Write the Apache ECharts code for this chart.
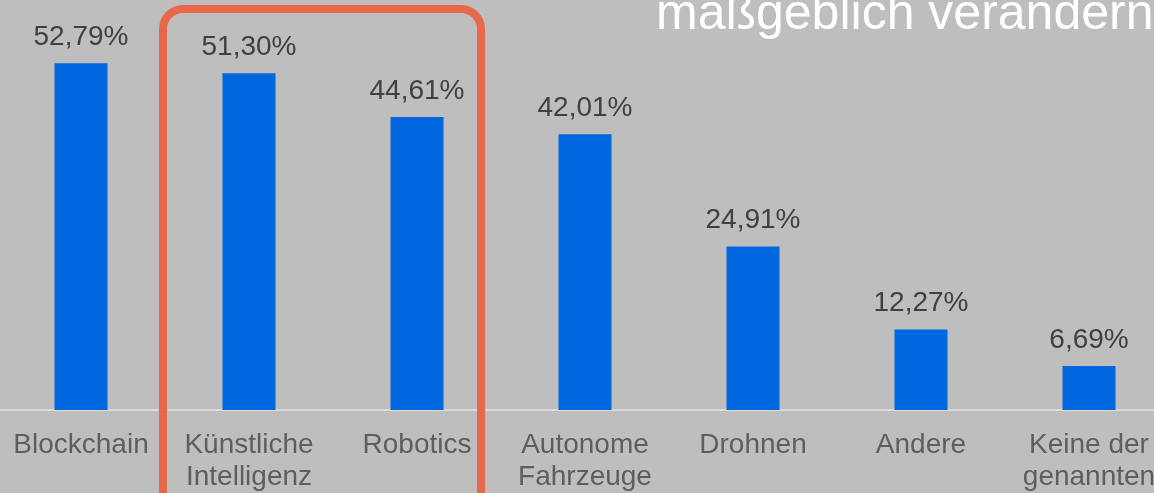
<!DOCTYPE html>
<html>
<head>
<meta charset="utf-8">
<style>
    html, body { margin: 0; padding: 0; background: #bebebf; }
    #chart { width: 1154px; height: 493px; }
</style>
<script src="https://cdn.jsdelivr.net/npm/echarts@6/dist/echarts.min.js"></script>
</head>
<body>
<div id="chart"></div>
<script>
    const categories = ['Blockchain', 'Künstliche\nIntelligenz', 'Robotics', 'Autonome\nFahrzeuge', 'Drohnen', 'Andere', 'Keine der\ngenannten'];
    const values = [52.79, 51.30, 44.61, 42.01, 24.91, 12.27, 6.69];
    const titleText = 'maßgeblich verändern';

    const chart = echarts.init(document.getElementById('chart'));
    chart.setOption({
        backgroundColor: '#bebebf',
        animation: false,
        grid: {
            left: -3,
            width: 1176,
            top: 16,
            bottom: 83,
            outerBoundsMode: 'none',
            containLabel: false
        },
        xAxis: {
            type: 'category',
            data: categories,
            axisLine: {
                lineStyle: { color: '#dadada', width: 2 }
            },
            axisTick: { show: false },
            axisLabel: {
                interval: 0,
                color: '#5e5e5e',
                fontFamily: 'Liberation Sans',
                fontSize: 28,
                lineHeight: 32,
                margin: 19
            }
        },
        yAxis: {
            type: 'value',
            min: 0,
            max: 60,
            show: false,
            splitLine: { show: false }
        },
        series: [{
            type: 'bar',
            data: values,
            barWidth: 53,
            itemStyle: { color: '#0067de' },
            label: {
                show: true,
                position: 'top',
                distance: 12,
                color: '#404040',
                fontFamily: 'Liberation Sans',
                fontSize: 28,
                formatter: function (p) {
                    return p.value.toFixed(2).replace('.', ',') + '%';
                }
            }
        }],
        graphic: [
            {
                type: 'text',
                left: 656,
                top: -10,
                style: {
                    text: titleText,
                    fill: '#ffffff',
                    fontFamily: 'Liberation Sans',
                    fontSize: 50
                }
            },
            {
                type: 'rect',
                z: 100,
                shape: { x: 163, y: 9, width: 318, height: 520, r: 20 },
                style: { fill: 'none', stroke: '#e8694a', lineWidth: 8 }
            }
        ]
    });
</script>
</body>
</html>
